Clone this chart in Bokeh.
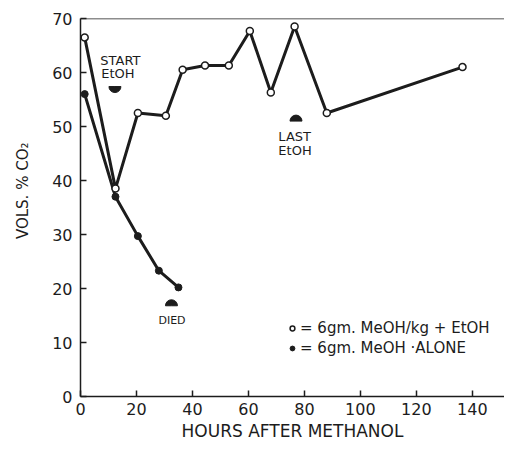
import math
from bokeh.plotting import figure
from bokeh.models import Span, Label, Legend, LegendItem, FixedTicker, Range1d
from bokeh.embed import file_html
from bokeh.resources import INLINE

# ---- data ----
hours_etoh = [1.5, 12.5, 20.5, 30.5, 36.5, 44.5, 53, 60.5, 68, 76.5, 88, 136.5]
co2_etoh = [66.5, 38.5, 52.5, 52.0, 60.5, 61.3, 61.3, 67.7, 56.3, 68.5, 52.5, 61.0]
hours_alone = [1.5, 12.5, 20.5, 28, 35]
co2_alone = [56.0, 37.0, 29.7, 23.3, 20.2]
x_ticks = [0, 20, 40, 60, 80, 100, 120, 140]
y_ticks = [0, 10, 20, 30, 40, 50, 60, 70]

# event markers (hours, vol %)
down_x = [12.3]          # START EtOH
down_y = [57.4]
up_x = [77.0, 32.5]      # LAST EtOH, DIED
up_y = [51.0, 16.8]

FONT = "DejaVu Sans"
INK = "#1c1c1c"

p = figure(width=504, height=443, output_backend="svg", toolbar_location=None,
           x_range=Range1d(0, 151.5), y_range=Range1d(0, 70),
           min_border_left=80, min_border_right=0, min_border_top=18, min_border_bottom=44)
p.grid.visible = False
p.outline_line_color = None
p.background_fill_color = "white"

for ax, ticks in ((p.xaxis[0], x_ticks), (p.yaxis[0], y_ticks)):
    ax.ticker = FixedTicker(ticks=ticks)
    ax.axis_line_width = 1.5
    ax.axis_line_color = INK
    ax.major_tick_in = 6
    ax.major_tick_out = 0
    ax.major_tick_line_width = 1.5
    ax.major_tick_line_color = INK
    ax.minor_tick_line_color = None
    ax.major_label_text_font = FONT
    ax.major_label_text_font_size = "16px"
    ax.major_label_text_color = INK
    ax.axis_label_text_font = FONT
    ax.axis_label_text_font_style = "normal"
    ax.axis_label_text_color = INK

p.xaxis.major_label_standoff = 6
p.yaxis.major_label_standoff = 8
p.xaxis.axis_label = "HOURS AFTER METHANOL"
p.xaxis.axis_label_text_font_size = "17px"
p.xaxis.axis_label_standoff = 3
p.yaxis.axis_label = "\u00a0" * 7 + "VOLS. % CO\u2082"
p.yaxis.axis_label_text_font_size = "15px"
p.yaxis.axis_label_standoff = 17

p.add_layout(Span(location=70, dimension="width", line_color=INK, line_width=1.5))

# series
p.line(hours_etoh, co2_etoh, line_color=INK, line_width=3)
p.line(hours_alone, co2_alone, line_color=INK, line_width=3)
r_open = p.scatter(hours_etoh, co2_etoh, marker="circle", size=7, fill_color="white",
                   line_color=INK, line_width=1.5)
r_fill = p.scatter(hours_alone, co2_alone, marker="circle", size=7, fill_color=INK,
                   line_color=INK)

# event arrows
p.wedge(down_x, down_y, radius=6, radius_units="screen", start_angle=math.pi,
        end_angle=2 * math.pi, fill_color=INK, line_color=INK)
p.wedge(up_x, up_y, radius=6, radius_units="screen", start_angle=0,
        end_angle=math.pi, fill_color=INK, line_color=INK)

def note(x, y, t, size="13px", align="left"):
    p.add_layout(Label(x=x, y=y, text=t, text_align=align, text_baseline="middle",
                       text_font=FONT, text_font_size=size, text_color=INK))

note(7.1, 62.3, "START")
note(7.4, 59.8, "EtOH")
note(70.7, 48.1, "LAST")
note(70.7, 45.5, "EtOH")
note(32.7, 14.1, "DIED", size="11px", align="center")

legend = Legend(items=[LegendItem(label="= 6gm. MeOH/kg + EtOH", renderers=[r_open]),
                       LegendItem(label="= 6gm. MeOH \u00b7ALONE", renderers=[r_fill])],
                location=(206, 38), orientation="vertical",
                border_line_color=None, background_fill_alpha=0,
                padding=0, margin=0, spacing=0, glyph_width=12, glyph_height=20,
                label_height=20, label_standoff=2,
                label_text_font=FONT, label_text_font_size="15px", label_text_color=INK)
p.add_layout(legend)

open("out.html", "w").write(file_html(p, INLINE))
